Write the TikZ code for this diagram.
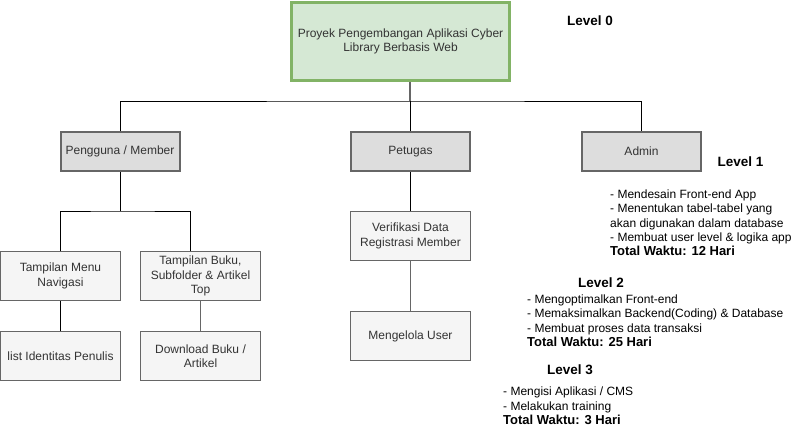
\documentclass[tikz,border=0pt]{standalone}
\usepackage{fontspec}
\setmainfont{Liberation Sans}
\definecolor{rootfill}{HTML}{D5E8D4}
\definecolor{rootline}{HTML}{82B366}
\definecolor{boxline}{HTML}{666666}
\definecolor{midfill}{HTML}{DDDDDD}
\definecolor{lowfill}{HTML}{F5F5F5}
\definecolor{boxtext}{HTML}{333333}
\newcommand{\totaltime}[1]{{\fontsize{13}{14.3}\selectfont\bfseries #1}}
\tikzset{
  rootbox/.style={draw=rootline,fill=rootfill,line width=3pt,minimum width=218pt,minimum height=78pt,align=center,text=boxtext,inner sep=0pt},
  midbox/.style={draw=boxline,fill=midfill,line width=2pt,minimum width=119pt,minimum height=39pt,text=boxtext,inner sep=0pt},
  lowbox/.style={draw=boxline,fill=lowfill,line width=1pt,minimum width=120pt,minimum height=49pt,align=center,text=boxtext,inner sep=0pt},
  notes/.style={anchor=north west,align=left,inner sep=0pt},
  lvl/.style={font=\fontsize{13.5}{16}\selectfont\bfseries}
}
\begin{document}
\begin{tikzpicture}[x=1pt,y=-1pt,font=\fontsize{12}{14.3}\selectfont]
            \useasboundingbox (0,0) rectangle (801,432);
            \node[rootbox] (root) at (400.5,41.5) {Proyek Pengembangan Aplikasi Cyber\\Library Berbasis Web};
            \node[midbox] (pengguna) at (120,151.5) {Pengguna / Member};
            \node[midbox] (petugas) at (410.5,151.5) {Petugas};
            \node[midbox] (admin) at (641.5,151.5) {Admin};
            \node[lowbox] (menu) at (60.5,276) {Tampilan Menu\\Navigasi};
            \node[lowbox] (buku) at (200.5,276) {Tampilan Buku,\\Subfolder \& Artikel\\Top};
            \node[lowbox] (penulis) at (60.5,356) {list Identitas Penulis};
            \node[lowbox] (download) at (200.5,356) {Download Buku /\\Artikel};
            \node[lowbox] (verifikasi) at (410.5,236) {Verifikasi Data\\Registrasi Member};
            \node[lowbox] (kelola) at (410.5,336) {Mengelola User};
            % connectors
            \coordinate (bus) at (410,101);
            \coordinate (sub) at (120,211);
            \draw[boxline,line width=1.5pt] (root.south -| bus) -- (bus);
            \draw (pengguna.north) |- (bus) -| (admin.north);
            \draw (bus) -- (bus |- petugas.north);
            \draw (pengguna.south) -- (sub);
            \draw (menu.north) |- (sub) -| ([xshift=-10pt]buku.north);
            \draw (menu.south) -- (penulis.north);
            \draw[boxline,line width=1.5pt] (buku.south) -- (download.north);
            \draw (petugas.south -| verifikasi.north) -- (verifikasi.north);
            \draw[boxline,line width=1.2pt] (verifikasi.south) -- (kelola.north);
            % levels
            \node[lvl] (lv0) at (590,21) {Level 0};
            \node[lvl] (lv1) at (740.5,162) {Level 1};
            \node[lvl] (lv2) at (601,283) {Level 2};
            \node[lvl] (lv3) at (570,370) {Level 3};
            \node[notes] (note1) at (610,189.5) {- Mendesain Front-end App\\- Menentukan tabel-tabel yang\\akan digunakan dalam database\\- Membuat user level \& logika app\\\totaltime{Total Waktu: 12 Hari}};
            \node[notes] (note2) at (527,294.5) {- Mengoptimalkan Front-end\\- Memaksimalkan Backend(Coding) \& Database\\- Membuat proses data transaksi\\\totaltime{Total Waktu: 25 Hari}};
            \node[notes] (note3) at (503,387) {- Mengisi Aplikasi / CMS\\- Melakukan training\\\totaltime{Total Waktu: 3 Hari}};
\end{tikzpicture}
\end{document}
